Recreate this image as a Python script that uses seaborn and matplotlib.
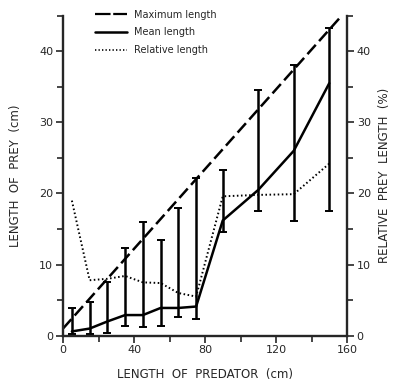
import matplotlib
matplotlib.use("Agg")
import matplotlib.pyplot as plt
import seaborn as sns
import numpy as np
import pandas as pd
from matplotlib.ticker import MultipleLocator
from matplotlib.lines import Line2D

# Data
predator_len = [5, 15, 25, 35, 45, 55, 65, 75, 90, 110, 130, 150]
mean_len = [0.6, 1.0, 2.0, 2.9, 2.9, 3.9, 3.9, 4.1, 16.2, 20.5, 26.0, 35.5]
err_low = [0.3, 0.3, 0.4, 1.3, 1.2, 1.4, 2.6, 2.3, 14.6, 17.6, 16.1, 17.6]
err_high = [3.9, 4.8, 7.5, 12.4, 16.0, 13.5, 17.9, 22.2, 23.3, 34.6, 38.0, 43.3]
relative_len = [19.0, 7.8, 8.0, 8.4, 7.5, 7.4, 6.0, 5.5, 19.6, 19.8, 19.9, 24.2]
max_x = [0, 157]
max_y = [1.0, 45.0]
x_ticks = [0, 40, 80, 120, 160]
y_ticks = [0, 10, 20, 30, 40]

sns.set_style("ticks")
plt.rcParams['font.family'] = ['DejaVu Sans']

fig = plt.figure(figsize=(4.0, 3.87), dpi=100)
ax = fig.add_axes([0.1575, 0.1326, 0.71, 0.8268])
ax2 = ax.twinx()

df = pd.DataFrame({"x": predator_len, "mean": mean_len, "rel": relative_len,
                   "lo": err_low, "hi": err_high})
dmax = pd.DataFrame({"x": max_x, "y": max_y})

lw = 1.8
sns.lineplot(data=dmax, x="x", y="y", ax=ax, color="black", lw=lw, label="_nolegend_")
ax.lines[-1].set_linestyle((0, (5.0, 2.0)))
sns.lineplot(data=df, x="x", y="mean", ax=ax, color="black", lw=lw, label="_nolegend_")
ax.errorbar(df["x"], df["mean"],
            yerr=[np.array(mean_len) - np.array(err_low), np.array(err_high) - np.array(mean_len)],
            fmt="none", ecolor="black", elinewidth=lw, capsize=3.2, capthick=1.4)
sns.lineplot(data=df, x="x", y="rel", ax=ax2, color="black", lw=1.4, label="_nolegend_")
ax2.lines[-1].set_linestyle((0, (0.8, 1.3)))

for a in (ax, ax2):
    a.set_xlim(0, 160)
    a.set_ylim(0, 45)
    a.spines["top"].set_visible(False)
    a.set_facecolor("none")
ax.spines["right"].set_visible(False)
ax2.spines["left"].set_visible(False)
ax2.spines["bottom"].set_visible(False)
for s in ("left", "bottom"):
    ax.spines[s].set_linewidth(1.7)
ax2.spines["right"].set_linewidth(1.7)

ax.set_xticks(x_ticks)
ax.set_xticklabels([str(t) for t in x_ticks])
ax.xaxis.set_minor_locator(MultipleLocator(20))
ax.set_yticks(y_ticks)
ax.set_yticklabels([str(t) for t in y_ticks])
ax.yaxis.set_minor_locator(MultipleLocator(5))
ax2.set_yticks(y_ticks)
ax2.set_yticklabels([str(t) for t in y_ticks])
ax2.yaxis.set_minor_locator(MultipleLocator(5))

for a in (ax, ax2):
    a.tick_params(which="major", length=5, width=1.2, labelsize=8, direction="out", pad=2)
    a.tick_params(which="minor", length=4, width=1.2, direction="out")
ax2.tick_params(axis="y", which="both", left=False, right=True)

ax.set_xlabel("LENGTH  OF  PREDATOR  (cm)", fontsize=8.5, labelpad=9)
ax.set_ylabel("LENGTH  OF  PREY  (cm)", fontsize=8.5, labelpad=12)
ax2.set_ylabel("RELATIVE  PREY  LENGTH  (%)", fontsize=8.5, labelpad=5)

h1 = Line2D([], [], color="black", lw=1.6, linestyle=(0, (7.0, 1.2)))
h2 = Line2D([], [], color="black", lw=1.8)
h3 = Line2D([], [], color="black", lw=1.2, linestyle=(0, (0.8, 1.3)))
fig.legend([h1, h2, h3], ["Maximum length", "Mean length", "Relative length"],
           loc="upper left", bbox_to_anchor=(0.215, 0.998), frameon=False,
           fontsize=7, handlelength=3.3, handletextpad=0.7, labelspacing=0.8)

fig.savefig("out.png", dpi=100)
